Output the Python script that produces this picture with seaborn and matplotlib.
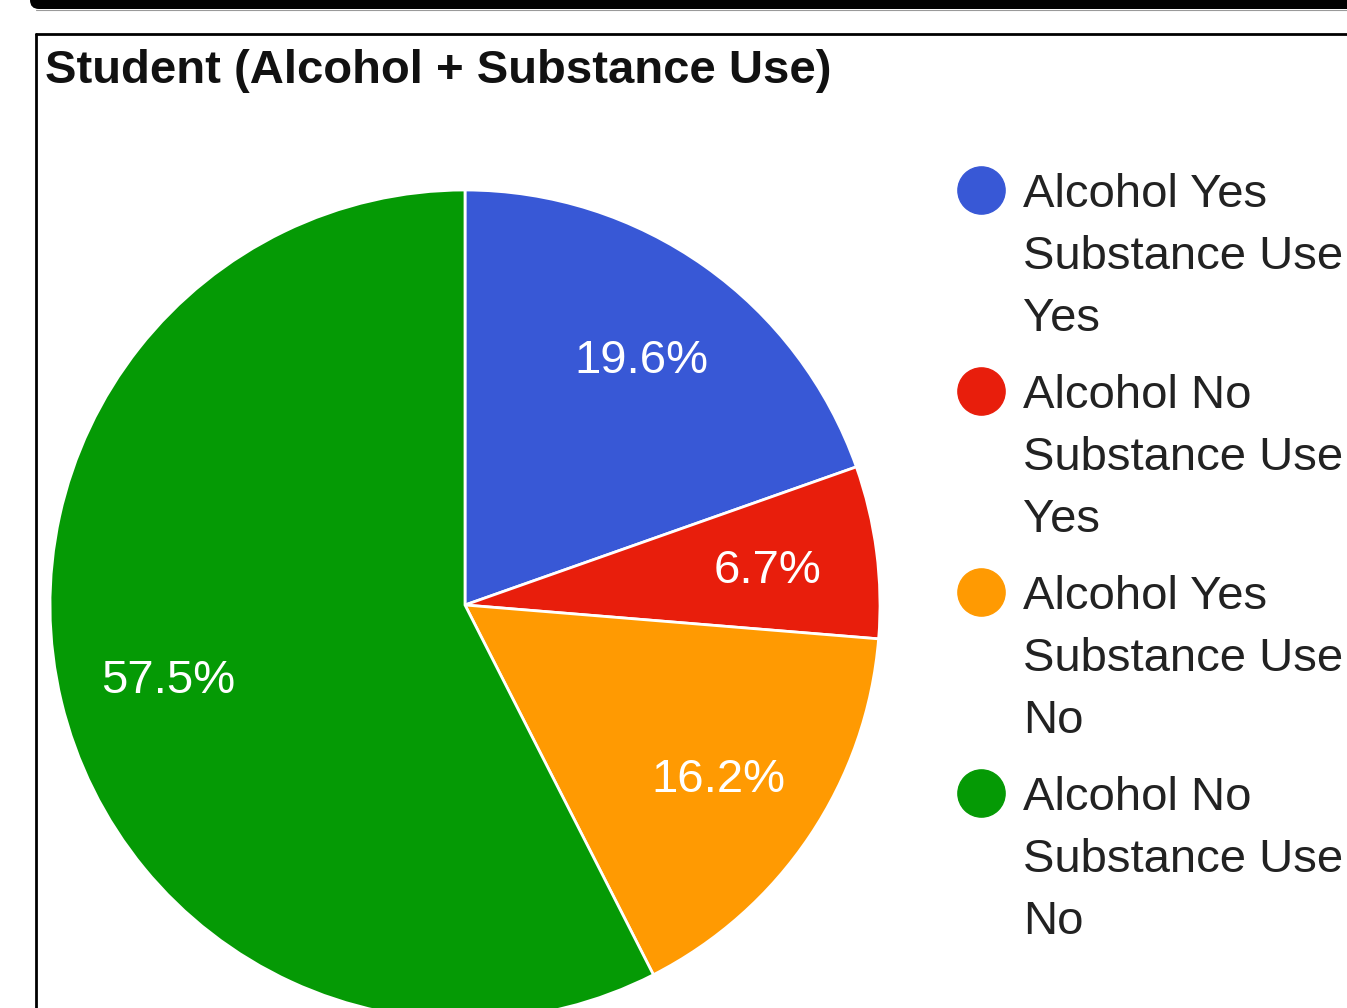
import matplotlib
matplotlib.use("Agg")
import matplotlib.pyplot as plt
import seaborn as sns
from matplotlib.lines import Line2D
from matplotlib.patches import FancyBboxPatch

sns.set_theme(style="white")
plt.rcParams["font.family"] = ["Liberation Sans", "DejaVu Sans"]

# Survey shares (percent of students)
categories = [
    "Alcohol Yes\nSubstance Use\nYes",
    "Alcohol No\nSubstance Use\nYes",
    "Alcohol Yes\nSubstance Use\nNo",
    "Alcohol No\nSubstance Use\nNo",
]
shares = [19.6, 6.7, 16.2, 57.5]
colors = ["#3858d6", "#e81e0c", "#ff9a02", "#059a05"]
title = "Student (Alcohol + Substance Use)"

W, H, DPI = 1347, 1008, 100
fig = plt.figure(figsize=(W / DPI, H / DPI), dpi=DPI)
fig.patch.set_facecolor("white")


def fx(px):
    return px / W


def fy(py):
    return 1 - py / H


# Pie axes: centre (465, 605) px, radius 415 px
cx, cy, r = 465, 605, 415
ax = fig.add_axes([fx(cx - r), fy(cy + r), 2 * r / W, 2 * r / H])
ax.set_xlim(-1, 1)
ax.set_ylim(-1, 1)
ax.set_axis_off()

wedges, texts, autotexts = ax.pie(
    shares,
    colors=colors,
    startangle=90,
    counterclock=False,
    radius=1,
    autopct="%1.1f%%",
    pctdistance=0.735,
    wedgeprops=dict(edgecolor="white", linewidth=2),
    textprops=dict(color="white", fontsize=34),
)
for t in autotexts:
    t.set_va("center_baseline")
ax.set_xlim(-1, 1)
ax.set_ylim(-1, 1)

# Title
fig.text(fx(45), fy(83), title, fontsize=34, fontweight="bold",
         color="#111111", ha="left", va="baseline")

# Legend: circle marker beside the first line of each wrapped label
entry_top = 207
entry_step = 201
line_step = 62
for i, (lab, col) in enumerate(zip(categories, colors)):
    base = entry_top + i * entry_step
    fig.add_artist(Line2D([fx(981)], [fy(base - 17)], marker="o",
                          markersize=34, color=col, linestyle="none",
                          transform=fig.transFigure))
    for j, line in enumerate(lab.split("\n")):
        fig.text(fx(1023), fy(base + j * line_step), line, fontsize=34,
                 color="#222222", ha="left", va="baseline")

# Page frame: dark bar along the top and a thin box border
bar = FancyBboxPatch((30 / DPI, (H - 9) / DPI), (W + 40) / DPI, 40 / DPI,
                     boxstyle="round,pad=0,rounding_size=0.09",
                     transform=fig.dpi_scale_trans, facecolor="black",
                     edgecolor="none")
fig.add_artist(bar)
fig.add_artist(Line2D([fx(36), fx(W)], [fy(10), fy(10)], color="#9a9a9a",
                      linewidth=0.8, transform=fig.transFigure))
fig.add_artist(Line2D([fx(36), fx(W + 5)], [fy(34), fy(34)], color="black",
                      linewidth=2, transform=fig.transFigure))
fig.add_artist(Line2D([fx(36), fx(36)], [fy(34), fy(H + 5)], color="black",
                      linewidth=2, transform=fig.transFigure))

fig.savefig("out.png", dpi=DPI, facecolor="white")
